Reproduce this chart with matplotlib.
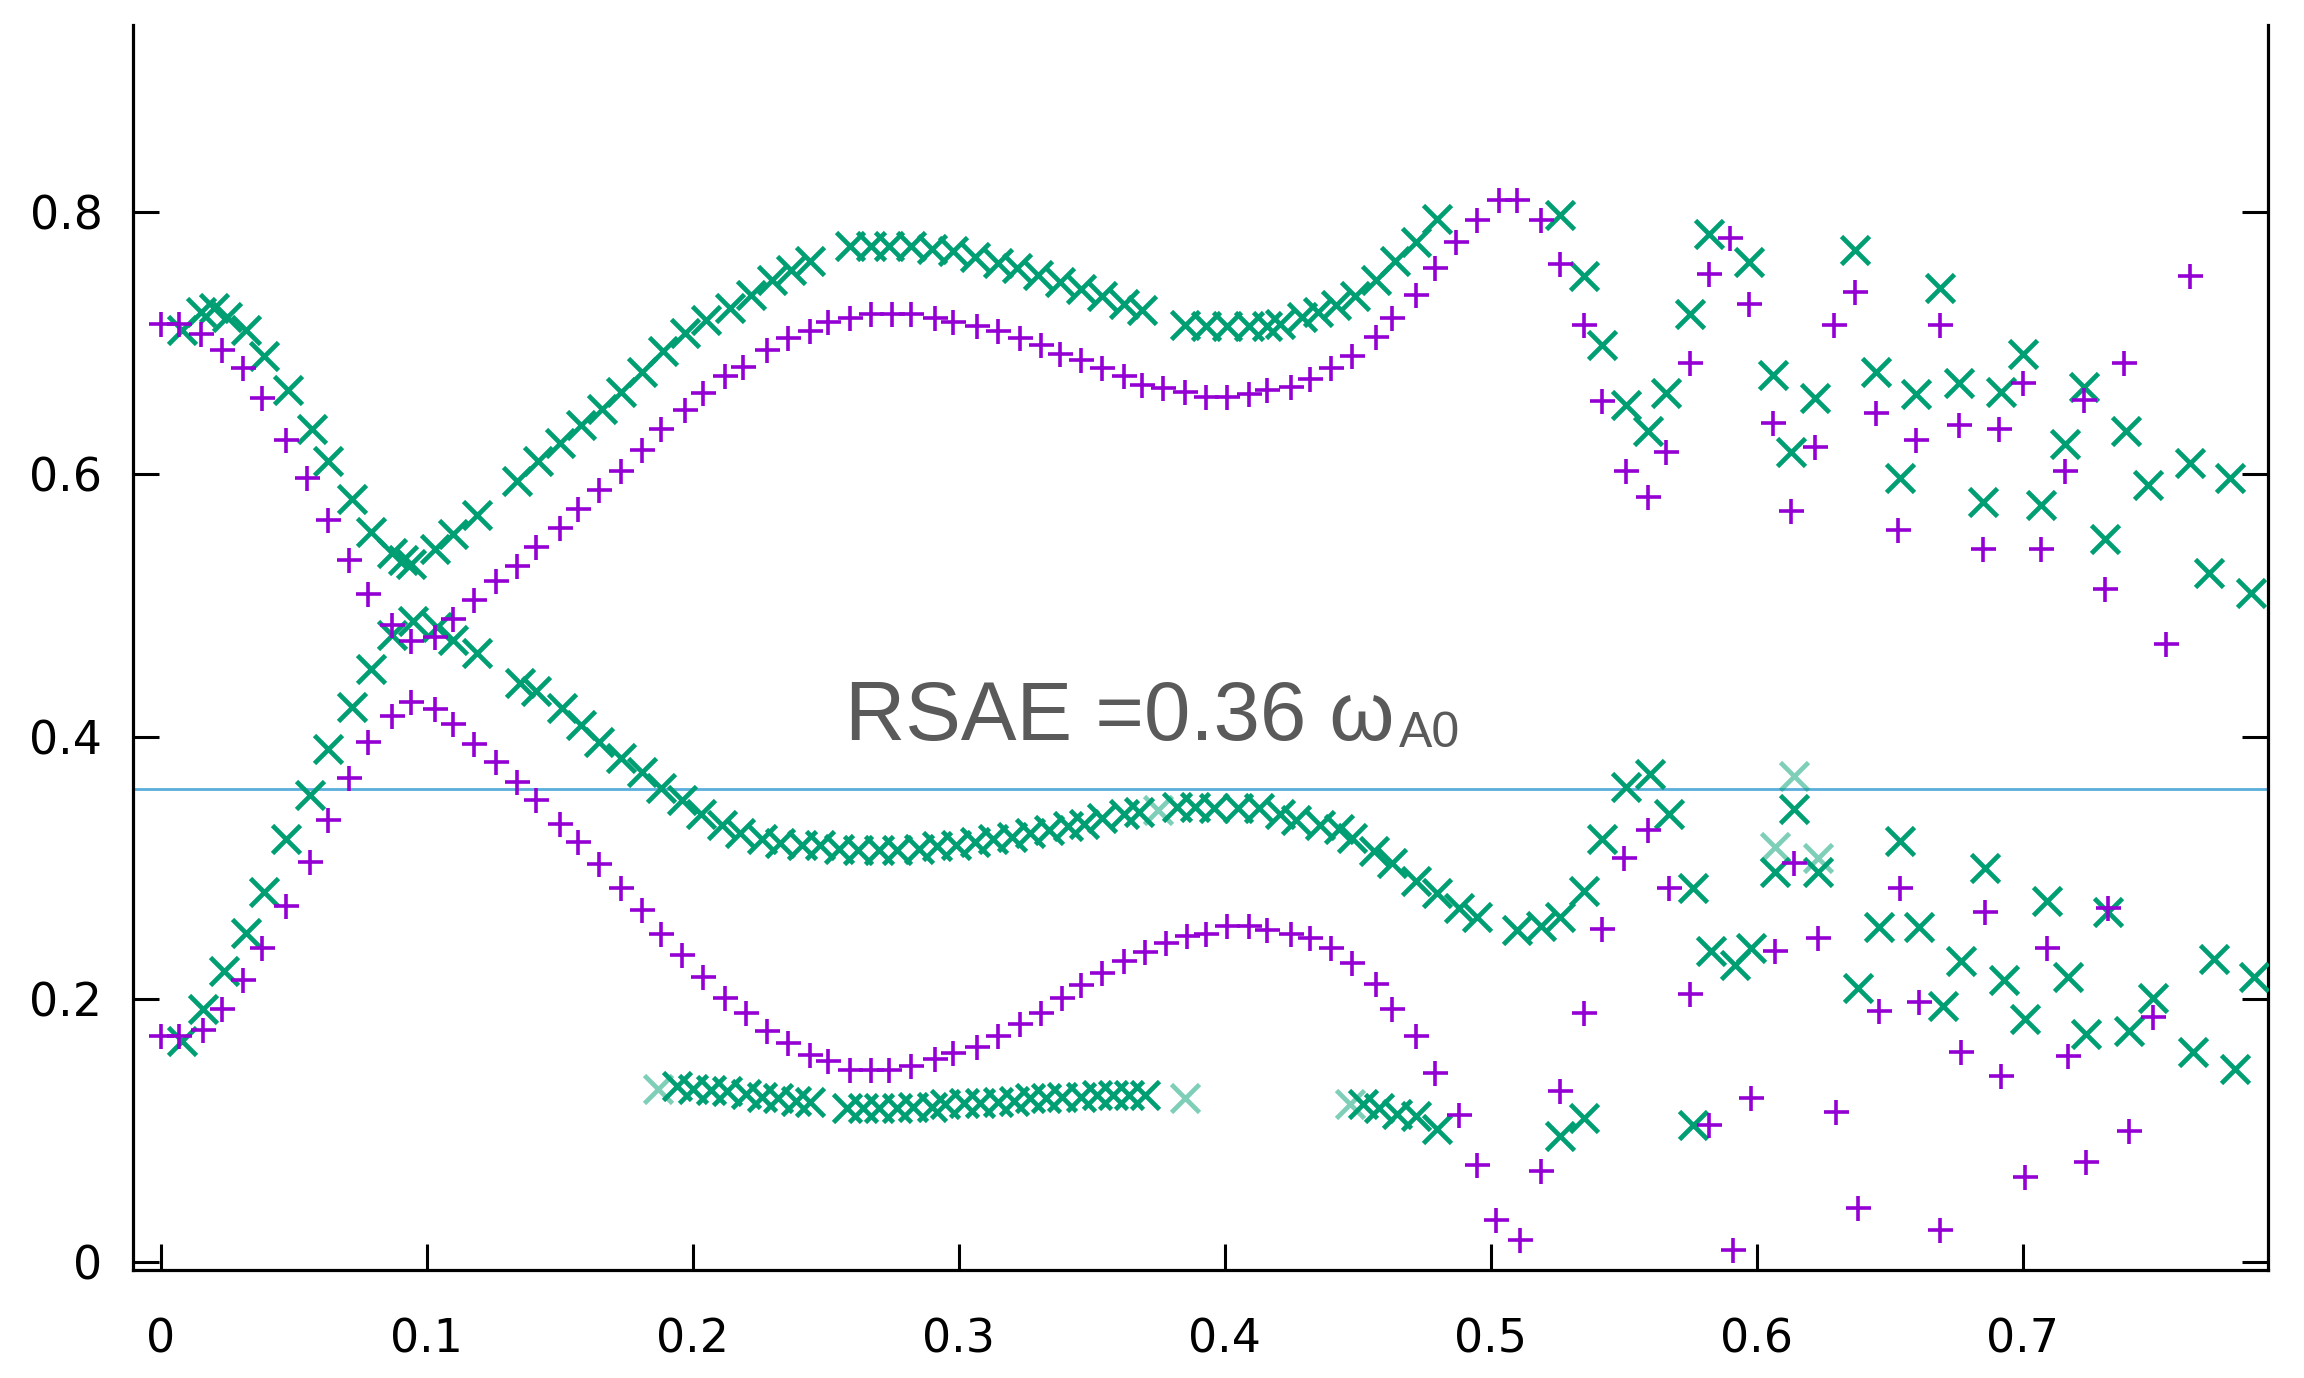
"""Alfven continuum / eigenvalue spectrum with the RSAE frequency marked."""
import matplotlib
matplotlib.use("Agg")
import matplotlib.pyplot as plt

# purple "+" series: (x, y)
purple_x = [0.000, 0.007, 0.015, 0.023, 0.031, 0.038, 0.047, 0.055, 0.063, 0.071, 0.078, 0.087, 0.094,
            0.103, 0.110, 0.118, 0.126, 0.134, 0.141, 0.150, 0.157, 0.165, 0.173, 0.181, 0.188, 0.197,
            0.204, 0.212, 0.219, 0.228, 0.236, 0.244, 0.251, 0.259, 0.267, 0.275, 0.282, 0.291, 0.298,
            0.307, 0.315, 0.323, 0.331, 0.338, 0.346, 0.354, 0.362, 0.369, 0.377, 0.385, 0.393, 0.401,
            0.409, 0.416, 0.425, 0.432, 0.440, 0.448, 0.457, 0.463, 0.472, 0.479, 0.487, 0.495, 0.503,
            0.510, 0.519, 0.526, 0.535, 0.542, 0.551, 0.559, 0.566,
            0.000, 0.007, 0.016, 0.023, 0.031, 0.038, 0.047, 0.056, 0.063, 0.071, 0.078, 0.087, 0.094,
            0.103, 0.110, 0.118, 0.126, 0.134, 0.141, 0.150, 0.157, 0.165, 0.173, 0.181, 0.188, 0.196,
            0.204, 0.212, 0.220, 0.228, 0.236, 0.244, 0.251, 0.259, 0.267, 0.274, 0.282, 0.291, 0.298,
            0.307, 0.315, 0.323, 0.331, 0.339, 0.346, 0.354, 0.362, 0.370, 0.378, 0.386, 0.393, 0.401,
            0.409, 0.416, 0.425, 0.432, 0.440, 0.448, 0.457, 0.463, 0.472, 0.479, 0.488, 0.495, 0.502,
            0.511,
            0.519, 0.526, 0.535, 0.542, 0.550, 0.559, 0.567, 0.575, 0.582, 0.591, 0.598, 0.607, 0.614,
            0.623, 0.630, 0.638, 0.646, 0.654, 0.661, 0.669, 0.677, 0.686, 0.692, 0.701, 0.709, 0.717,
            0.724, 0.732, 0.740, 0.749,
            0.575, 0.582, 0.590, 0.597, 0.606, 0.613, 0.622, 0.629, 0.637, 0.645, 0.653, 0.660, 0.669,
            0.676, 0.685, 0.691, 0.700, 0.707, 0.716, 0.723, 0.731, 0.738, 0.754, 0.763]
purple_y = [0.715, 0.715, 0.707, 0.695, 0.681, 0.658, 0.626, 0.597, 0.565, 0.535, 0.509, 0.485, 0.473,
            0.476, 0.490, 0.504, 0.519, 0.530, 0.545, 0.559, 0.574, 0.588, 0.603, 0.619, 0.635, 0.649,
            0.662, 0.675, 0.682, 0.695, 0.704, 0.709, 0.716, 0.719, 0.722, 0.722, 0.722, 0.719, 0.716,
            0.713, 0.709, 0.704, 0.699, 0.692, 0.687, 0.681, 0.675, 0.668, 0.666, 0.663, 0.659, 0.659,
            0.661, 0.664, 0.667, 0.673, 0.681, 0.690, 0.705, 0.719, 0.737, 0.757, 0.777, 0.794, 0.809,
            0.809, 0.794, 0.760, 0.714, 0.656, 0.603, 0.583, 0.617,
            0.172, 0.172, 0.177, 0.193, 0.215, 0.239, 0.271, 0.305, 0.337, 0.369, 0.396, 0.416, 0.427,
            0.421, 0.410, 0.395, 0.381, 0.366, 0.352, 0.334, 0.320, 0.303, 0.285, 0.268, 0.250, 0.234,
            0.217, 0.201, 0.190, 0.176, 0.167, 0.158, 0.153, 0.146, 0.146, 0.146, 0.149, 0.155, 0.159,
            0.164, 0.172, 0.181, 0.190, 0.201, 0.211, 0.220, 0.229, 0.236, 0.243, 0.248, 0.250, 0.256,
            0.256, 0.253, 0.250, 0.247, 0.239, 0.228, 0.212, 0.193, 0.172, 0.144, 0.112, 0.074, 0.032,
            0.017,
            0.069, 0.130, 0.190, 0.254, 0.308, 0.329, 0.285, 0.204, 0.104, 0.009, 0.125, 0.237, 0.304,
            0.247, 0.114, 0.041, 0.191, 0.285, 0.198, 0.024, 0.160, 0.267, 0.142, 0.065, 0.239, 0.157,
            0.076, 0.270, 0.100, 0.187,
            0.685, 0.753, 0.780, 0.730, 0.639, 0.572, 0.621, 0.714, 0.739, 0.647, 0.558, 0.626, 0.714,
            0.638, 0.543, 0.635, 0.670, 0.543, 0.603, 0.657, 0.513, 0.685, 0.471, 0.751]

# green "x" series
green_x = [0.008, 0.015, 0.020, 0.025, 0.032, 0.039, 0.048, 0.057, 0.063, 0.072, 0.079, 0.087, 0.091,
           0.094, 0.103, 0.110, 0.119, 0.134, 0.142, 0.150, 0.158, 0.166, 0.173, 0.181, 0.189, 0.197,
           0.205, 0.214, 0.222, 0.230, 0.237, 0.244, 0.259, 0.267, 0.274, 0.282, 0.290, 0.298, 0.306,
           0.315, 0.322, 0.330, 0.338, 0.346, 0.354, 0.362, 0.369, 0.385, 0.393, 0.401, 0.409, 0.416,
           0.421, 0.429, 0.435, 0.442, 0.449, 0.457, 0.464, 0.472, 0.480,
           0.526, 0.535, 0.542, 0.551, 0.559, 0.566, 0.575, 0.582, 0.597, 0.606, 0.613, 0.622, 0.637,
           0.645, 0.654, 0.660, 0.669, 0.676, 0.685, 0.692, 0.700, 0.707, 0.716, 0.723, 0.731, 0.739,
           0.747, 0.763, 0.770, 0.778, 0.786,
           0.008, 0.016, 0.024, 0.032, 0.039, 0.047, 0.056, 0.063, 0.072, 0.079, 0.087, 0.095, 0.104,
           0.110, 0.119, 0.135, 0.141, 0.151, 0.158, 0.165, 0.173, 0.181, 0.188, 0.196, 0.203, 0.211,
           0.218, 0.226, 0.233, 0.241, 0.248, 0.255, 0.262, 0.270, 0.277, 0.285, 0.292, 0.299, 0.306,
           0.313, 0.320, 0.327, 0.334, 0.341, 0.347, 0.354, 0.362, 0.368, 0.382, 0.389, 0.396, 0.405,
           0.413, 0.421, 0.427, 0.436, 0.443, 0.448, 0.456, 0.463, 0.472, 0.480, 0.488, 0.495, 0.510,
           0.519, 0.526, 0.535, 0.542, 0.551, 0.560, 0.567, 0.576, 0.583, 0.592, 0.598, 0.607, 0.614,
           0.623, 0.638, 0.646, 0.654, 0.661, 0.670, 0.677, 0.686, 0.693, 0.701, 0.709, 0.717, 0.724,
           0.732, 0.740, 0.749, 0.764, 0.772, 0.780, 0.787, 0.576,
           0.194, 0.200, 0.207, 0.213, 0.220, 0.226, 0.232, 0.239, 0.244, 0.258, 0.264, 0.270, 0.277,
           0.283, 0.290, 0.295, 0.302, 0.308, 0.315, 0.321, 0.327, 0.333, 0.339, 0.346, 0.352, 0.358,
           0.364, 0.370, 0.452, 0.458, 0.465, 0.472, 0.480, 0.526, 0.535]
green_y = [0.710, 0.724, 0.727, 0.720, 0.710, 0.690, 0.664, 0.635, 0.610, 0.581, 0.556, 0.540, 0.535,
           0.532, 0.543, 0.555, 0.569, 0.595, 0.610, 0.624, 0.638, 0.650, 0.663, 0.678, 0.694, 0.708,
           0.718, 0.727, 0.737, 0.748, 0.756, 0.763, 0.774, 0.774, 0.774, 0.774, 0.772, 0.770, 0.766,
           0.761, 0.757, 0.752, 0.747, 0.741, 0.736, 0.730, 0.725, 0.714, 0.713, 0.713, 0.713, 0.713,
           0.715, 0.720, 0.724, 0.729, 0.736, 0.748, 0.763, 0.777, 0.795,
           0.798, 0.751, 0.699, 0.653, 0.633, 0.662, 0.722, 0.783, 0.762, 0.676, 0.617, 0.658, 0.771,
           0.678, 0.597, 0.661, 0.742, 0.670, 0.579, 0.663, 0.692, 0.577, 0.623, 0.667, 0.551, 0.633,
           0.592, 0.609, 0.525, 0.597, 0.510,
           0.168, 0.193, 0.222, 0.251, 0.282, 0.322, 0.356, 0.391, 0.423, 0.452, 0.478, 0.488, 0.484,
           0.474, 0.464, 0.441, 0.435, 0.422, 0.409, 0.396, 0.384, 0.373, 0.361, 0.352, 0.341, 0.333,
           0.327, 0.322, 0.319, 0.318, 0.318, 0.315, 0.314, 0.314, 0.314, 0.315, 0.317, 0.318, 0.320,
           0.322, 0.324, 0.327, 0.329, 0.332, 0.334, 0.338, 0.341, 0.343, 0.347, 0.347, 0.346, 0.346,
           0.346, 0.341, 0.337, 0.333, 0.330, 0.323, 0.313, 0.304, 0.290, 0.281, 0.270, 0.263, 0.253,
           0.256, 0.263, 0.283, 0.322, 0.362, 0.372, 0.341, 0.285, 0.237, 0.226, 0.239, 0.297, 0.345,
           0.297, 0.209, 0.255, 0.321, 0.255, 0.195, 0.229, 0.300, 0.215, 0.185, 0.275, 0.217, 0.174,
           0.267, 0.176, 0.201, 0.160, 0.231, 0.147, 0.217, 0.104,
           0.134, 0.132, 0.131, 0.130, 0.128, 0.126, 0.125, 0.123, 0.122, 0.117, 0.117, 0.117, 0.117,
           0.118, 0.118, 0.120, 0.121, 0.121, 0.122, 0.123, 0.125, 0.125, 0.126, 0.126, 0.127, 0.127,
           0.127, 0.127, 0.120, 0.117, 0.113, 0.111, 0.101, 0.096, 0.110]

# paler green "x" points
faded_x = [0.187, 0.375, 0.385, 0.447, 0.614, 0.607, 0.623]
faded_y = [0.132, 0.344, 0.125, 0.120, 0.370, 0.316, 0.308]

RSAE = 0.36
XTICKS = [0, 0.1, 0.2, 0.3, 0.4, 0.5, 0.6, 0.7]
YTICKS = [0, 0.2, 0.4, 0.6, 0.8]

fig = plt.figure(figsize=(23.04, 13.78), dpi=100)
ax = fig.add_axes([0.0577, 0.0784, 0.9266, 0.9035])

ax.axhline(RSAE, color="#5aaedc", lw=2.0, zorder=1)
ax.plot(faded_x, faded_y, ls="none", marker="x", ms=20, mew=3.4, color="#009E73", alpha=0.5, zorder=2)
ax.plot(green_x, green_y, ls="none", marker="x", ms=20, mew=3.4, color="#009E73", zorder=3)
ax.plot(purple_x, purple_y, ls="none", marker="+", ms=18, mew=2.6, color="#9400D3", zorder=4)

ax.text(0.2573, 0.3977, "RSAE =0.36 \u03c9", fontsize=60, color="#5a5a5a",
        family=["Liberation Sans", "DejaVu Sans"], ha="left", va="baseline")
ax.text(0.4655, 0.3925, "A0", fontsize=36, color="#5a5a5a",
        family=["Liberation Sans", "DejaVu Sans"], ha="left", va="baseline")

ax.set_xlim(-0.0104, 0.7922)
ax.set_ylim(-0.0061, 0.9425)
ax.set_xticks(XTICKS)
ax.set_xticklabels(["0", "0.1", "0.2", "0.3", "0.4", "0.5", "0.6", "0.7"])
ax.set_yticks(YTICKS)
ax.set_yticklabels(["0", "0.2", "0.4", "0.6", "0.8"])
ax.spines["top"].set_visible(False)
for s in ("left", "right", "bottom"):
    ax.spines[s].set_linewidth(2.3)
ax.tick_params(axis="x", direction="in", length=19, width=2.2, labelsize=33, pad=34, top=False)
ax.tick_params(axis="y", direction="in", length=19, width=2.2, labelsize=33, pad=22, right=True)

fig.savefig("out.png", dpi=100)
